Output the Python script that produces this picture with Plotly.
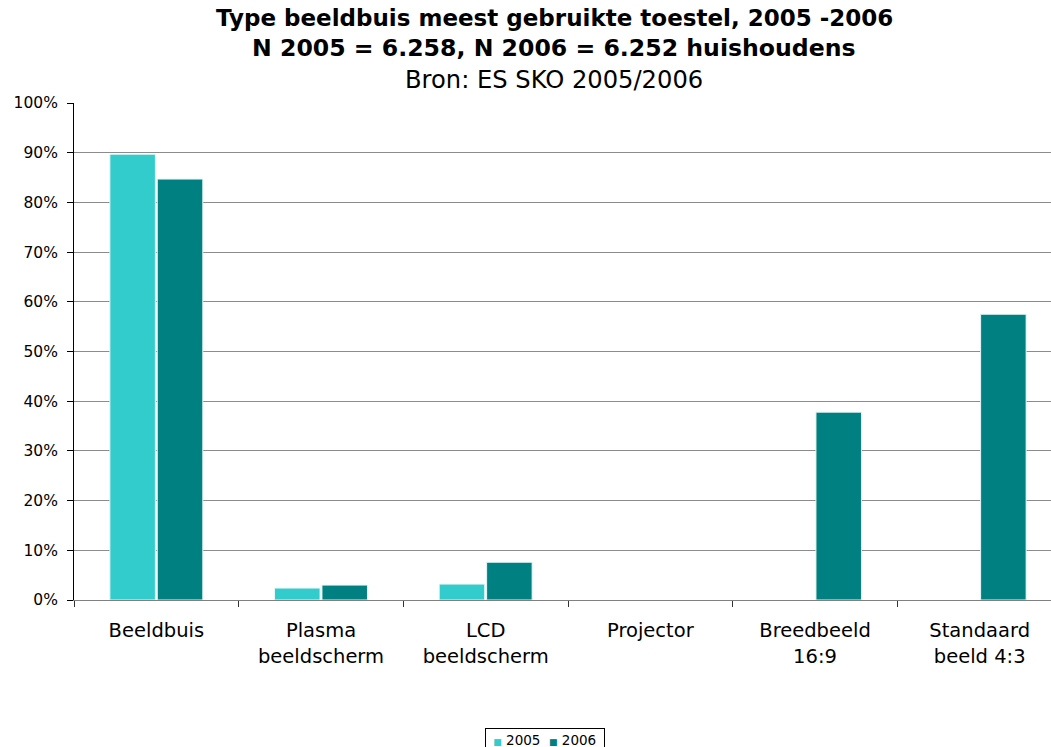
import plotly.graph_objects as go

categories = ["Beeldbuis", "Plasma<br>beeldscherm", "LCD<br>beeldscherm", "Projector", "Breedbeeld<br>16:9", "Standaard<br>beeld 4:3"]
values_2005 = [89.7, 2.4, 3.2, None, None, None]
values_2006 = [84.7, 3.0, 7.6, None, 37.8, 57.5]
tick_vals = [0, 10, 20, 30, 40, 50, 60, 70, 80, 90, 100]
tick_text = [f"{v}%" for v in tick_vals]
title_lines = ["<b>Type beeldbuis meest gebruikte toestel, 2005 -2006</b>",
               "<b>N 2005 = 6.258, N 2006 = 6.252 huishoudens</b>",
               "Bron: ES SKO 2005/2006"]
color_2005 = "#33CCCC"
color_2006 = "#008080"

FONT = "Verdana, DejaVu Sans, sans-serif"
W, H = 1062, 747
L, R, T, B = 74, 0, 103, 147
PW = W - L - R
PH = H - T - B

def py(ypix):
    return (H - B - ypix) / PH

def px(xpix):
    return (xpix - L) / PW

fig = go.Figure()
fig.add_trace(go.Bar(name="2005", x=categories, y=values_2005,
                     marker=dict(color=color_2005, line=dict(color="#E6F7F7", width=1))))
fig.add_trace(go.Bar(name="2006", x=categories, y=values_2006,
                     marker=dict(color=color_2006, line=dict(color="#E6F7F7", width=1))))

annotations = []
for text, ypix, size in zip(title_lines, [18, 48, 80], [23, 23.6, 24.2]):
    annotations.append(dict(text=text, xref="paper", yref="paper", x=px(554), y=py(ypix),
                            xanchor="center", yanchor="middle", showarrow=False,
                            font=dict(family=FONT, size=size, color="black")))
sq = "font-size:9px"
annotations.append(dict(
    text=(f"&nbsp;<span style='color:{color_2005};{sq}'>■</span>&nbsp;2005&nbsp;&nbsp;"
          f"<span style='color:{color_2006};{sq}'>■</span>&nbsp;2006&nbsp;"),
    xref="paper", yref="paper", x=px(545), y=py(739.5),
    xanchor="center", yanchor="middle", showarrow=False,
    bordercolor="black", borderwidth=1, borderpad=3, bgcolor="white",
    font=dict(family=FONT, size=13.5, color="black")))

fig.update_layout(
    width=W, height=H,
    paper_bgcolor="white", plot_bgcolor="white",
    font=dict(family=FONT, color="black", size=16),
    margin=dict(l=L, r=R, t=T, b=B, autoexpand=False),
    barmode="group", bargap=0.424, bargroupgap=0.04,
    showlegend=False,
    annotations=annotations,
    xaxis=dict(showline=True, linecolor="#808080", linewidth=1, ticks="outside",
               tickson="boundaries", ticklen=6, tickcolor="#333333", automargin=False,
               ticklabelstandoff=13,
               tickfont=dict(size=19.5, family=FONT), showgrid=False),
    yaxis=dict(range=[0, 100], tickvals=tick_vals, ticktext=tick_text, automargin=False,
               showline=True, linecolor="black", linewidth=1, ticks="outside",
               ticklen=6, tickcolor="black", showgrid=True, gridcolor="#8C8C8C",
               ticklabelstandoff=6,
               gridwidth=1, tickfont=dict(size=15.5, family=FONT), zeroline=False),
)

fig.write_html("out.html", config={"responsive": False, "displayModeBar": False},
               post_script="document.body.style.margin='0';document.body.style.overflow='hidden';")
